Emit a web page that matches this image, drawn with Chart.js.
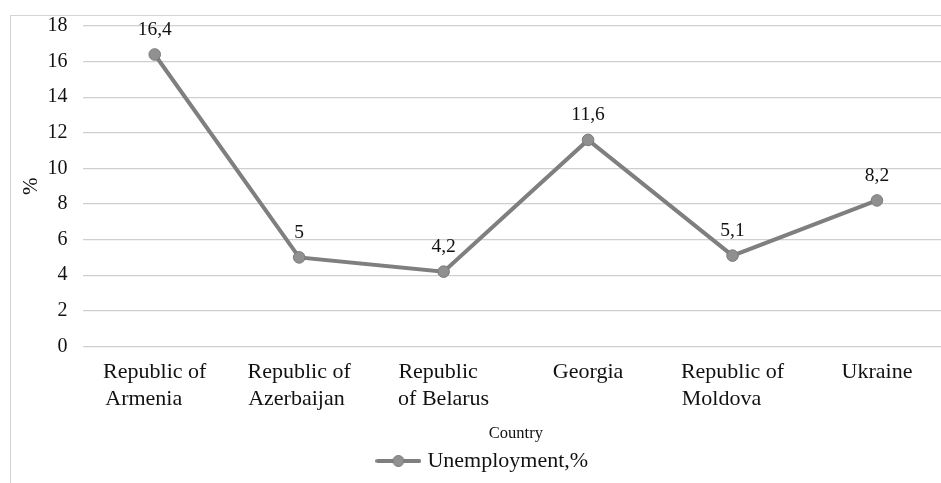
<!DOCTYPE html>
<html>
<head>
<meta charset="utf-8">
<script src="https://cdn.jsdelivr.net/npm/chart.js@4/dist/chart.umd.min.js"></script>
<style>
  html, body { margin: 0; padding: 0; background: #fff; overflow: hidden; }
  #frame {
    position: absolute; left: 10px; top: 15px;
    width: 945px; height: 475px;
    border-left: 1px solid #d4d4d4; border-top: 1px solid #d4d4d4;
  }
  #chart { display: block; }
</style>
</head>
<body>
<div id="frame"><canvas id="chart" width="945" height="475"></canvas></div>
<script>
// Unemployment rate by country, %
const countryLines = [
  ['Republic of', 'Armenia'],
  ['Republic of', 'Azerbaijan'],
  ['Republic', 'of Belarus'],
  ['Georgia'],
  ['Republic of', 'Moldova'],
  ['Ukraine']
];
const unemployment = [16.4, 5, 4.2, 11.6, 5.1, 8.2];
const seriesName = 'Unemployment,%';
const yMin = 0, yMax = 18, yStep = 2;

const SERIF = '"Liberation Serif", "Times New Roman", serif';
const TEXT = '#111';
const LINE = '#7f7f7f';
const CAT_FONT = 22;

// Pad wrapped lines to a common width so each label block reads left-aligned
function padLines(lines, fontPx) {
  const c = document.createElement('canvas').getContext('2d');
  c.font = fontPx + 'px ' + SERIF;
  const w = Math.max(...lines.map(l => c.measureText(l).width));
  return lines.map(l => {
    let s = l;
    while (c.measureText(s + ' ').width <= w + 1) s += ' ';
    return s;
  });
}
const categories = countryLines.map(l => padLines(l, CAT_FONT));

// Legend marker: short line with a circle in the middle
function legendMarker() {
  const cv = document.createElement('canvas');
  cv.width = 46; cv.height = 14;
  const g = cv.getContext('2d');
  g.strokeStyle = LINE; g.lineWidth = 4; g.lineCap = 'round';
  g.beginPath(); g.moveTo(2, 7); g.lineTo(44, 7); g.stroke();
  g.beginPath(); g.arc(23, 7, 5.5, 0, Math.PI * 2);
  g.fillStyle = '#909090'; g.fill();
  g.lineWidth = 1; g.strokeStyle = '#7a7a7a'; g.stroke();
  return cv;
}
const marker = legendMarker();

// Value labels above each point, decimal comma
const valueLabels = {
  id: 'valueLabels',
  afterDatasetsDraw(chart) {
    const ctx = chart.ctx;
    const meta = chart.getDatasetMeta(0);
    const data = chart.data.datasets[0].data;
    ctx.save();
    ctx.font = '19.5px ' + SERIF;
    ctx.fillStyle = TEXT;
    ctx.textAlign = 'center';
    ctx.textBaseline = 'middle';
    meta.data.forEach((pt, i) => {
      const txt = String(data[i]).replace('.', ',');
      ctx.fillText(txt, pt.x, pt.y - 25);
    });
    ctx.restore();
  }
};

new Chart(document.getElementById('chart'), {
  type: 'line',
  data: {
    labels: categories,
    datasets: [{
      label: seriesName,
      data: unemployment,
      borderColor: LINE,
      borderWidth: 4,
      pointRadius: 5.8,
      pointBackgroundColor: '#909090',
      pointBorderColor: '#7a7a7a',
      pointBorderWidth: 1,
      tension: 0,
      fill: false
    }]
  },
  options: {
    responsive: false,
    animation: false,
    layout: { padding: { left: 5, right: 3.5, top: 10, bottom: 9 } },
    plugins: {
      legend: {
        position: 'bottom',
        labels: {
          usePointStyle: true,
          pointStyleWidth: 36,
          color: TEXT,
          font: { family: SERIF, size: 22 },
          padding: 6,
          generateLabels(chart) {
            return Chart.defaults.plugins.legend.labels.generateLabels(chart)
              .map(l => Object.assign(l, { pointStyle: marker }));
          }
        }
      },
      tooltip: { enabled: false }
    },
    scales: {
      x: {
        offset: true,
        grid: { display: false },
        border: { display: false },
        ticks: {
          color: TEXT,
          font: { family: SERIF, size: CAT_FONT, lineHeight: 1.2 },
          padding: 5,
          maxRotation: 0,
          autoSkip: false,
          labelOffset: 0
        },
        title: {
          display: true,
          text: 'Country',
          color: TEXT,
          font: { family: SERIF, size: 16.5 },
          padding: { top: 7, bottom: 0 }
        }
      },
      y: {
        min: yMin,
        max: yMax,
        grid: {
          color: '#cfcfcf', lineWidth: 1.2,
          drawTicks: true, tickLength: 15, tickColor: 'rgba(0,0,0,0)'
        },
        border: { display: false },
        ticks: {
          stepSize: yStep,
          color: TEXT,
          font: { family: SERIF, size: 20, lineHeight: 1 },
          padding: 0
        },
        title: {
          display: true,
          text: '%',
          color: TEXT,
          font: { family: SERIF, size: 21 },
          padding: { top: 3, bottom: 4 }
        },
        afterFit(scale) { scale.width = 66.5; }
      }
    }
  },
  plugins: [valueLabels]
});
</script>
</body>
</html>
